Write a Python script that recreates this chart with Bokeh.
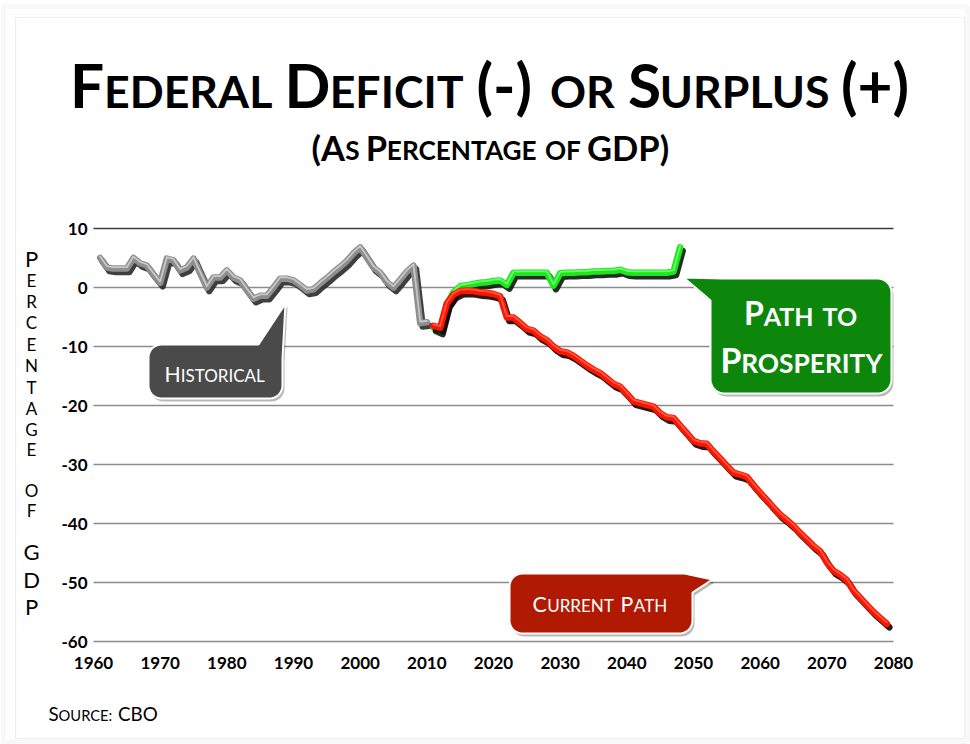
import numpy as np
from bokeh.plotting import figure
from bokeh.models import Range1d, Label, BoxAnnotation
from bokeh.core.properties import value
from bokeh.embed import file_html
from bokeh.resources import INLINE

# ---------------- data ----------------
years_hist = list(range(1961, 2011))
deficit_hist = [5.0, 3.4, 3.2, 3.2, 3.2, 5.0, 4.1, 3.7, 2.2, 0.8,
                4.9, 4.6, 2.9, 3.4, 4.9, 2.4, 0.0, 1.7, 1.7, 2.9,
                1.7, 1.2, -0.4, -1.9, -1.4, -1.4, 0.0, 1.5, 1.5, 1.2,
                0.4, -0.5, -0.3, 0.7, 1.6, 2.6, 3.5, 4.5, 5.8, 6.8,
                5.1, 3.4, 2.5, 0.9, 0.0, 1.3, 2.7, 3.7, -6.0, -5.9]

years_prosperity = list(range(2011, 2049))
deficit_prosperity = [-6.8, -7.3, -2.8, -0.8, 0.2, 0.4, 0.6, 0.8, 0.9, 1.1,
                      1.2, 0.4, 2.5, 2.5, 2.5, 2.5, 2.5, 2.5, 0.3, 2.4,
                      2.5, 2.5, 2.6, 2.6, 2.7, 2.7, 2.8, 2.8, 3.0, 2.6,
                      2.5, 2.5, 2.5, 2.5, 2.5, 2.5, 2.7, 6.8]

years_current = list(range(2011, 2080))
deficit_current = [-6.5, -6.8, -2.7, -1.2, -0.6, -0.5, -0.6, -0.8, -0.9, -1.1,
                   -1.5, -5.1, -5.1, -6.0, -7.0, -7.3, -8.3, -8.9, -10.0, -10.8,
                   -11.0, -11.6, -12.4, -13.2, -13.9, -14.5, -15.4, -16.3, -16.8, -18.0,
                   -19.3, -19.6, -19.9, -20.2, -21.3, -22.0, -22.1, -23.4, -24.7, -26.0,
                   -26.4, -26.5, -27.8, -29.0, -30.2, -31.4, -31.7, -32.1, -33.5, -34.8,
                   -36.0, -37.3, -38.5, -39.4, -40.4, -41.6, -42.7, -43.8, -44.7, -46.6,
                   -48.0, -48.7, -49.6, -51.4, -52.6, -53.8, -55.0, -56.0, -57.0]

x_ticks = [1960, 1970, 1980, 1990, 2000, 2010, 2020, 2030, 2040, 2050, 2060, 2070, 2080]
y_ticks = [-60, -50, -40, -30, -20, -10, 0, 10]

title_text = "Federal Deficit (-) or Surplus (+)"
subtitle_text = "(As Percentage of GDP)"
ylabel_text = "Percentage of GDP"
source_text = "Source: CBO"

# ---------------- layout ----------------
W, H = 970, 744
FL, FR, FT, FB = 93, 893, 228, 641   # pixels of the plotting area (x: first/last tick, y: top/bottom tick)

x0, x1 = x_ticks[0], x_ticks[-1]
y0, y1 = y_ticks[0], y_ticks[-1]
ppx = (FR - FL) / (x1 - x0)
ppy = (FB - FT) / (y1 - y0)
xr = Range1d(x0 - FL / ppx, x1 + (W - FR) / ppx)
yr = Range1d(y0 - (H - FB) / ppy, y1 + FT / ppy)

p = figure(width=W, height=H, output_backend="svg", toolbar_location=None, title=None,
           x_range=xr, y_range=yr, x_axis_location=None, y_axis_location=None,
           min_border=0, background_fill_color="white", border_fill_color="white",
           outline_line_color=None)
p.grid.visible = False

p.extra_x_ranges = {"pxx": Range1d(0, W),
                    "shx": Range1d(xr.start - 2.5 / ppx, xr.end - 2.5 / ppx),
                    "hlx": Range1d(xr.start, xr.end)}
p.extra_y_ranges = {"pxy": Range1d(H, 0),
                    "shy": Range1d(yr.start + 3.5 / ppy, yr.end + 3.5 / ppy),
                    "hly": Range1d(yr.start - 1.4 / ppy, yr.end - 1.4 / ppy)}

# card border
p.add_layout(BoxAnnotation(left=3, right=W - 3, top=6, bottom=H - 3, x_range_name="pxx", y_range_name="pxy",
                           fill_alpha=0, line_color="#e8e8e8", line_width=5))
p.add_layout(BoxAnnotation(left=15, right=W - 6, top=17, bottom=H - 6, x_range_name="pxx", y_range_name="pxy",
                           fill_alpha=0, line_color="#c6c6c6", line_width=1.2))

# gridlines and tick labels from the tick arrays
grid_colors = ["#8c8c8c"] * (len(y_ticks) - 1) + ["#3c3c3c"]
p.segment(x0=[x0] * len(y_ticks), y0=y_ticks, x1=[x1] * len(y_ticks), y1=y_ticks,
          line_color=grid_colors, line_width=1.4)
p.text(x=[x0] * len(y_ticks), y=y_ticks, text=[str(t) for t in y_ticks], x_offset=-6,
       text_font=value("Lato"), text_font_style="bold", text_font_size="17px",
       text_color="#000000", text_align="right", text_baseline="middle")
p.text(x=x_ticks, y=[y0] * len(x_ticks), text=[str(t) for t in x_ticks], y_offset=15,
       text_font=value("Lato"), text_font_style="bold", text_font_size="17px",
       text_color="#000000", text_align="center", text_baseline="top")

# ---------------- lines ----------------
def draw_series(xs, ys, main, shadow, highlight):
    p.line(xs, ys, x_range_name="shx", y_range_name="shy", line_color=shadow, line_width=6.5,
           line_alpha=0.9, line_join="round", line_cap="round")
    p.line(xs, ys, line_color=main, line_width=6.5, line_join="round", line_cap="round")
    p.line(xs, ys, x_range_name="hlx", y_range_name="hly", line_color=highlight, line_width=1.8,
           line_join="round", line_cap="round")

draw_series(years_hist, deficit_hist, "#8e8e8e", "#2a2a2a", "#c8c8c8")
draw_series(years_prosperity, deficit_prosperity, "#1ee61e", "#0a1a0a", "#6bff6b")
draw_series(years_current, deficit_current, "#ff1400", "#1a0000", "#ff5a40")

# ---------------- callouts ----------------
def callout(bx0, by0, bx1, by1, r, corner, base_a, tip, base_b, fill, n=10):
    centers = [(bx1 - r, by0 + r, -90), (bx1 - r, by1 - r, 0), (bx0 + r, by1 - r, 90), (bx0 + r, by0 + r, 180)]
    xs, ys = [], []
    for i, (cx, cy, a0) in enumerate(centers):
        if i == corner:
            for (qx, qy) in (base_a, tip, base_b):
                xs.append(qx); ys.append(qy)
        else:
            for t in np.linspace(np.radians(a0), np.radians(a0 + 90), n):
                xs.append(cx + r * np.cos(t)); ys.append(cy + r * np.sin(t))
    p.patch([v + 2 for v in xs], [v + 3 for v in ys], x_range_name="pxx", y_range_name="pxy",
            fill_color="#000000", fill_alpha=0.28, line_color=None)
    p.patch(xs, ys, x_range_name="pxx", y_range_name="pxy", fill_color=fill,
            line_color="#ffffff", line_width=2)

callout(148, 344, 282, 398, 13, 0, (258, 344), (285, 303), (282, 358), "#4a4a4a")
callout(710, 278, 891, 393, 14, 3, (710, 300), (683, 277), (722, 278), "#0c870c")
callout(509, 573, 692, 633, 13, 0, (684, 573), (712, 579), (692, 592), "#b01a02")

# ---------------- small-caps text ----------------
LATO_REG = {' ': 0.193, 'A': 0.678, 'B': 0.66, 'C': 0.69, 'D': 0.758, 'E': 0.587, 'F': 0.571,
            'G': 0.735, 'H': 0.765, 'I': 0.287, 'L': 0.521, 'N': 0.765, 'O': 0.802, 'P': 0.622,
            'R': 0.65, 'S': 0.537, 'T': 0.593, 'U': 0.732, 'Y': 0.64, '(': 0.315, ')': 0.315,
            '-': 0.37, '+': 0.58, ':': 0.245}
LATO_BOLD = {k: (v if k == ' ' else v * 0.985) for k, v in LATO_REG.items()}
BASE_SHIFT = 0.39   # labels with an alphabetic baseline render this fraction of the size lower


def char_w(ch, bold):
    return (LATO_BOLD if bold else LATO_REG).get(ch, 0.6)


def smallcaps(text, cx, baseline, width, ratio, bold, color, space=1.0):
    segs = []   # [text, kind] kind: 'big', 'small', 'space'
    for ch in text:
        kind = "space" if ch == " " else ("small" if ch.islower() or ch == ":" else "big")
        c = ch.upper()
        if segs and segs[-1][1] == kind:
            segs[-1][0] += c
        else:
            segs.append([c, kind])

    def seg_em(s, kind):
        if kind == "space":
            return len(s) * char_w(" ", bold) * space
        return sum(char_w(c, bold) for c in s) * (ratio if kind == "small" else 1)

    size = width / sum(seg_em(s, k) for s, k in segs)
    x = cx - width / 2
    for s, kind in segs:
        if kind != "space":
            fs = size * (ratio if kind == "small" else 1)
            p.add_layout(Label(x=x, y=baseline - BASE_SHIFT * fs, text=s, x_range_name="pxx", y_range_name="pxy",
                               text_font="Lato", text_font_size=f"{fs:.1f}px",
                               text_font_style="bold" if bold else "normal", text_color=color,
                               text_align="left", text_baseline="alphabetic"))
        x += seg_em(s, kind) * size


smallcaps(title_text, 491, 108, 843, 0.74, True, "#000000", space=1.2)
smallcaps(subtitle_text, 490, 160, 358, 0.76, True, "#000000")
smallcaps("Historical", 215, 382, 102, 0.8, False, "#ffffff")
smallcaps("Path to", 800, 325, 113, 0.78, True, "#ffffff", space=1.4)
smallcaps("Prosperity", 800, 373, 160, 0.78, True, "#ffffff")
smallcaps("Current Path", 600, 612, 136, 0.8, False, "#ffffff", space=1.4)
smallcaps(source_text, 103, 720, 110, 0.78, False, "#000000", space=1.4)

# vertical axis title, one letter per row
ylab_chars = [c for c in ylabel_text if c != " "]
ylab_y = [258, 280, 301, 322, 344, 365, 387, 408, 429, 449, 490, 510, 551, 579, 606]
for ch, yy in zip(ylab_chars, ylab_y):
    big = ch.isupper()
    p.add_layout(Label(x=31, y=yy, text=ch.upper(), x_range_name="pxx", y_range_name="pxy",
                       text_font="Lato", text_font_size="22px" if big else "17px",
                       text_color="#000000", text_align="center", text_baseline="middle"))

open("out.html", "w").write(file_html(p, INLINE))
